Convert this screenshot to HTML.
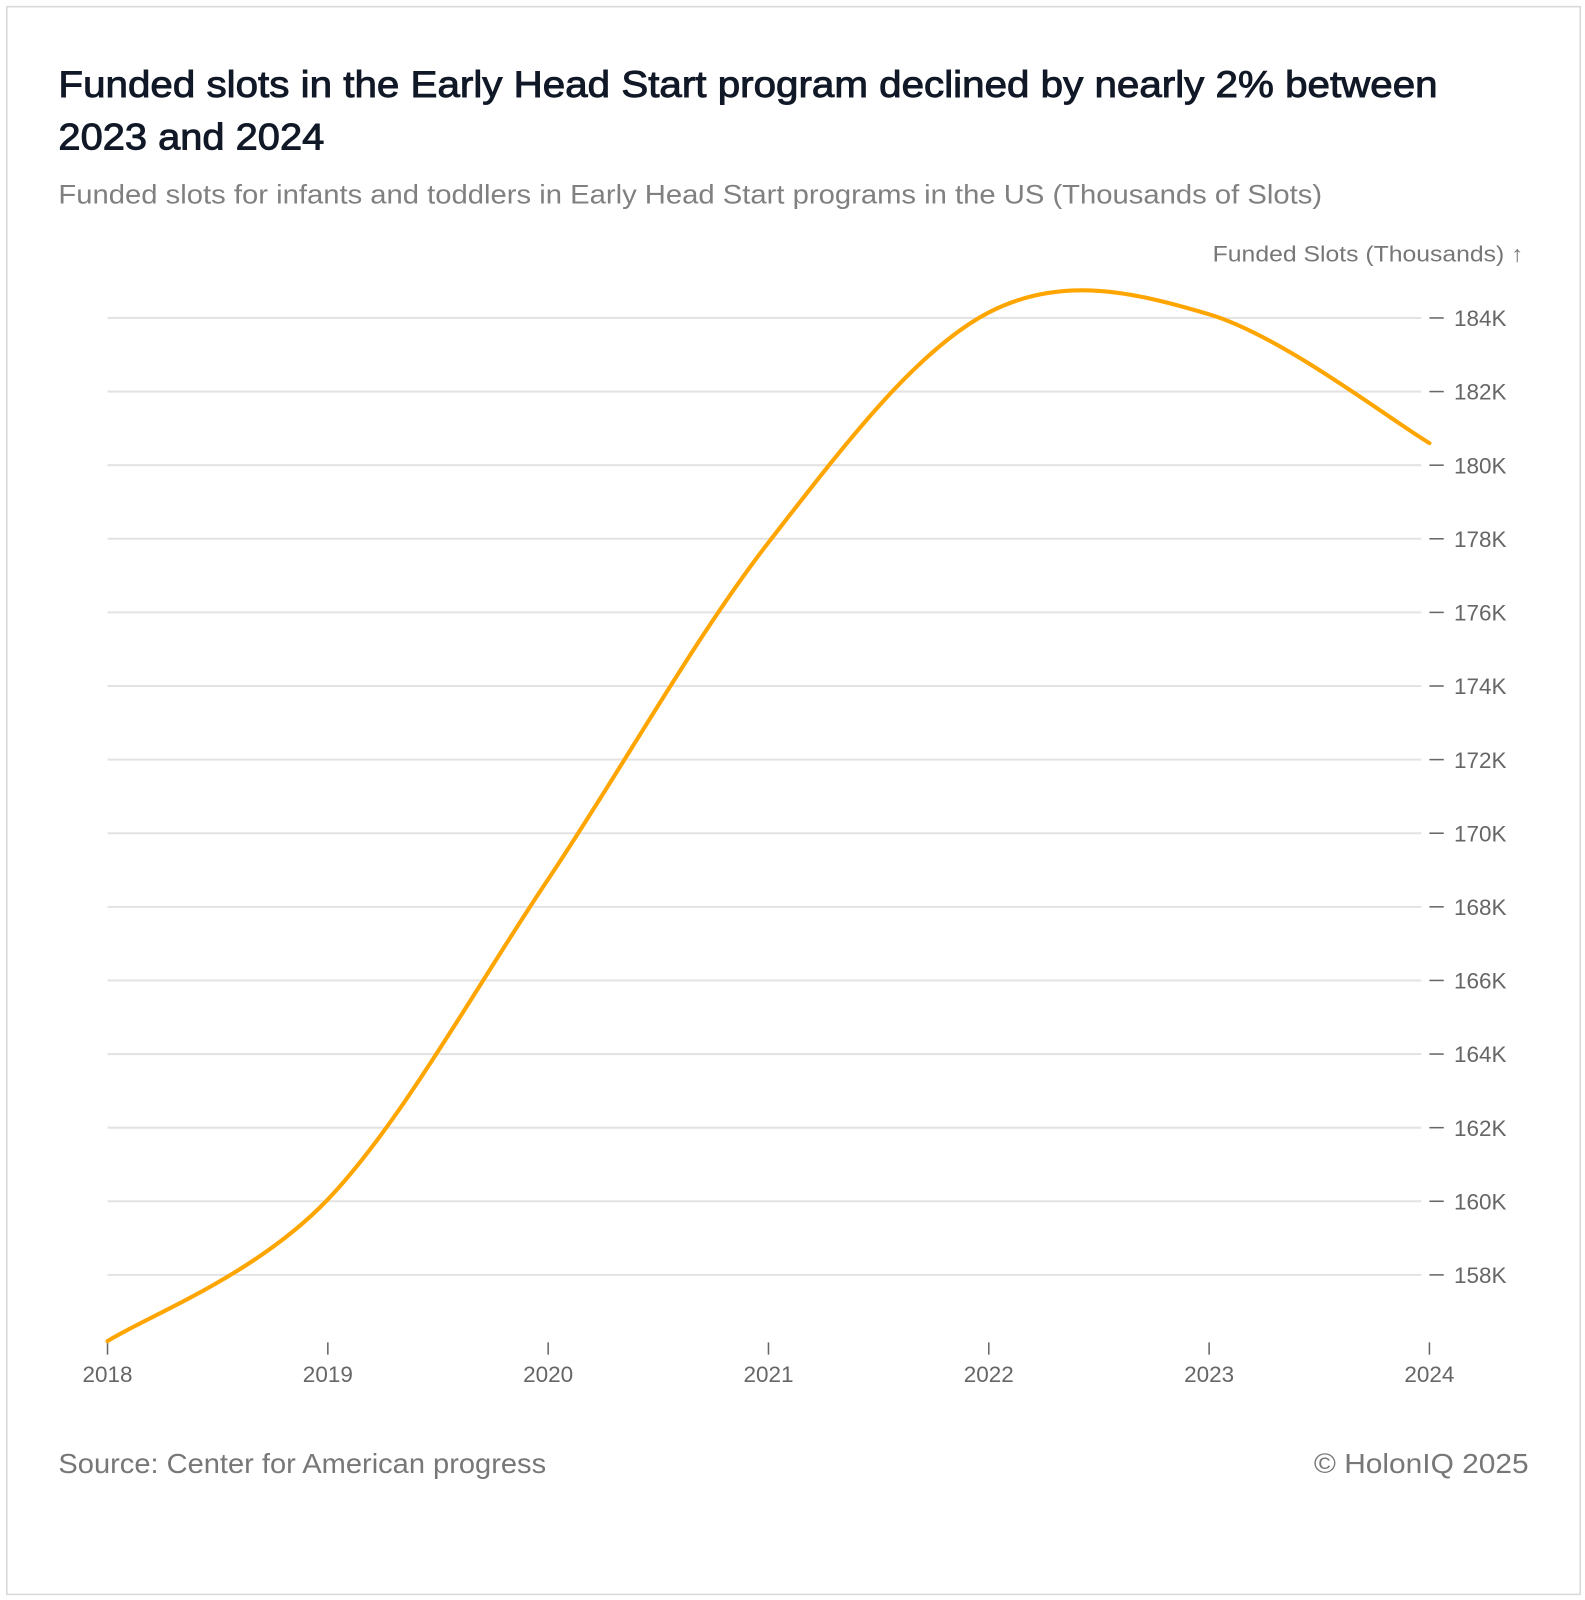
<!DOCTYPE html>
<html><head><meta charset="utf-8"><style>
html,body{margin:0;padding:0;background:#fff;}
svg{display:block;font-family:"Liberation Sans",sans-serif;}
</style></head><body>
<svg id="chart" width="1585" height="1600" viewBox="0 0 1550 1565" xmlns="http://www.w3.org/2000/svg">
<rect x="6.5" y="6.5" width="1539" height="1553" fill="#fff" stroke="#d8d8d8" stroke-width="1.5"/>
<text x="57" y="95" font-size="36" fill="#111827" stroke="#111827" stroke-width="0.9" textLength="1349" lengthAdjust="spacingAndGlyphs">Funded slots in the Early Head Start program declined by nearly 2% between</text>
<text x="57" y="146" font-size="36" fill="#111827" stroke="#111827" stroke-width="0.9" textLength="260" lengthAdjust="spacingAndGlyphs">2023 and 2024</text>
<text x="57" y="199" font-size="26" fill="#808080" textLength="1236" lengthAdjust="spacingAndGlyphs">Funded slots for infants and toddlers in Early Head Start programs in the US (Thousands of Slots)</text>
<text x="1490" y="256" font-size="22" fill="#777" text-anchor="end" textLength="304" lengthAdjust="spacingAndGlyphs">Funded Slots (Thousands) ↑</text>
<g id="grid"></g>
<g id="yaxis"></g>
<g id="xaxis"></g>
<path id="line" fill="none" stroke="#FFA500" stroke-width="4" stroke-linecap="round"/>
<text x="57" y="1441" font-size="27" fill="#777" textLength="477" lengthAdjust="spacingAndGlyphs">Source: Center for American progress</text>
<text x="1495" y="1441" font-size="27" fill="#777" text-anchor="end" textLength="210" lengthAdjust="spacingAndGlyphs">© HolonIQ 2025</text>
</svg>
<script>
const years = [2018, 2019, 2020, 2021, 2022, 2023, 2024];
const slots = [156.2, 160.05, 168.75, 177.9, 184.15, 184.1, 180.6];
const yTicks = [158, 160, 162, 164, 166, 168, 170, 172, 174, 176, 178, 180, 182, 184];
const yTickLabels = ["158K","160K","162K","164K","166K","168K","170K","172K","174K","176K","178K","180K","182K","184K"];

const NS = "http://www.w3.org/2000/svg";
const x = v => 105 + (v - 2018) * (1398 - 105) / 6;
const y = v => 311 + (184 - v) * 36;
function mk(tag, attrs, parent, txt) {
  const e = document.createElementNS(NS, tag);
  for (const k in attrs) e.setAttribute(k, attrs[k]);
  if (txt !== undefined) e.textContent = txt;
  parent.appendChild(e);
  return e;
}
const grid = document.getElementById('grid'), ya = document.getElementById('yaxis'), xa = document.getElementById('xaxis');
yTicks.forEach((t, i) => {
  const g = mk('line', {x1: 105, x2: 1390, y1: y(t), y2: y(t), stroke: '#e3e3e3', 'stroke-width': 2}, grid);
  
  
  const tk = mk('line', {x1: 1398, x2: 1412, y1: y(t), y2: y(t), stroke: '#666', 'stroke-width': 1.5}, ya);
  
  
  const lb = mk('text', {x: 1422, y: y(t) + 8, 'font-size': 22, fill: '#666'}, ya, yTickLabels[i]);
  
  
});
years.forEach(yr => {
  const tk = mk('line', {x1: x(yr), x2: x(yr), y1: 1313, y2: 1325, stroke: '#666', 'stroke-width': 1.5}, xa);
  
  
  const lb = mk('text', {x: x(yr), y: 1352, 'font-size': 22, fill: '#666', 'text-anchor': 'middle'}, xa, String(yr));
  
  
});
const pts = years.map((yr, i) => [x(yr), y(slots[i])]);
let d = `M${pts[0][0]},${pts[0][1]}`;
for (let i = 0; i < pts.length - 1; i++) {
  const p0 = pts[i - 1] || pts[i], p1 = pts[i], p2 = pts[i + 1], p3 = pts[i + 2] || p2;
  const c1 = [p1[0] + (p2[0] - p0[0]) / 6, p1[1] + (p2[1] - p0[1]) / 6];
  const c2 = [p2[0] - (p3[0] - p1[0]) / 6, p2[1] - (p3[1] - p1[1]) / 6];
  d += ` C${c1[0]},${c1[1]} ${c2[0]},${c2[1]} ${p2[0]},${p2[1]}`;
}
document.getElementById('line').setAttribute('d', d);
</script>
</body></html>
